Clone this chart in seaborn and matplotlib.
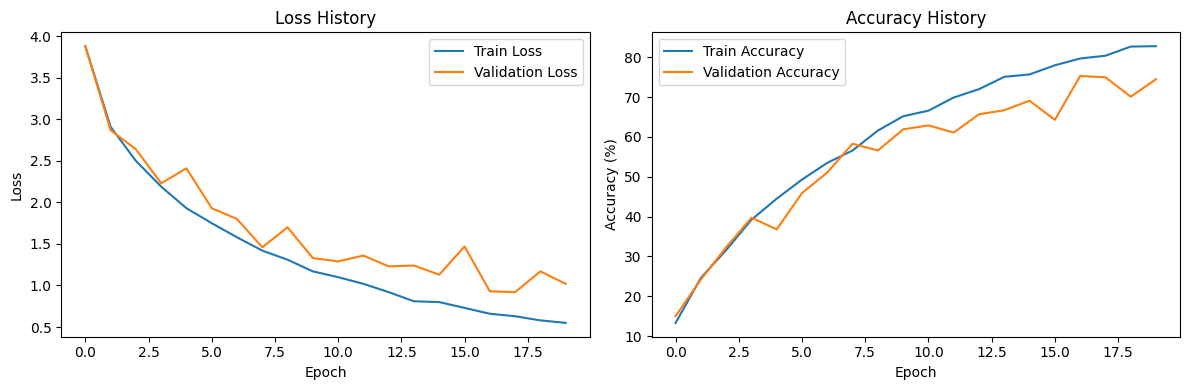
import numpy as np
import matplotlib
matplotlib.use('Agg')
import matplotlib.pyplot as plt
import seaborn as sns

# история обучения
epochs = list(range(20))

train_loss = [3.88, 2.91, 2.50, 2.19, 1.93, 1.75, 1.58, 1.42, 1.31, 1.17,
              1.10, 1.02, 0.92, 0.81, 0.80, 0.73, 0.66, 0.63, 0.58, 0.55]
val_loss = [3.88, 2.87, 2.64, 2.23, 2.41, 1.93, 1.80, 1.46, 1.70, 1.33,
            1.29, 1.36, 1.23, 1.24, 1.13, 1.47, 0.93, 0.92, 1.17, 1.02]

train_acc = [13.3, 24.6, 31.6, 39.2, 44.5, 49.3, 53.5, 56.6, 61.6, 65.2,
             66.6, 69.9, 72.0, 75.1, 75.7, 78.0, 79.7, 80.4, 82.7, 82.8]
val_acc = [15.0, 24.2, 32.3, 39.7, 36.8, 45.9, 51.1, 58.3, 56.6, 61.9,
           62.9, 61.1, 65.7, 66.7, 69.1, 64.3, 75.3, 75.0, 70.1, 74.5]

fig, axes = plt.subplots(1, 2, figsize=(12, 4), dpi=100)

# Loss
sns.lineplot(x=epochs, y=train_loss, label='Train Loss', ax=axes[0])
sns.lineplot(x=epochs, y=val_loss, label='Validation Loss', ax=axes[0])
axes[0].set_title('Loss History')
axes[0].set_xlabel('Epoch')
axes[0].set_ylabel('Loss')
axes[0].legend(loc='upper right')

# Accuracy
sns.lineplot(x=epochs, y=train_acc, label='Train Accuracy', ax=axes[1])
sns.lineplot(x=epochs, y=val_acc, label='Validation Accuracy', ax=axes[1])
axes[1].set_title('Accuracy History')
axes[1].set_xlabel('Epoch')
axes[1].set_ylabel('Accuracy (%)')
axes[1].legend(loc='upper left')

plt.tight_layout()
plt.savefig('out.png', bbox_inches='tight')
